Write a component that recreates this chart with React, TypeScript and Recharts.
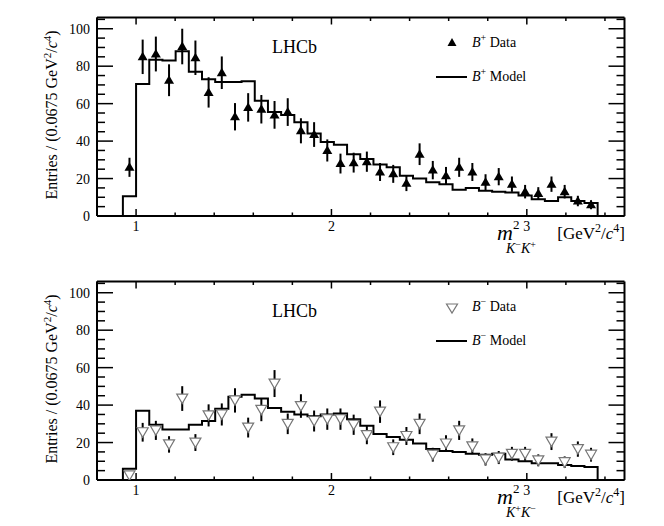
import React from 'react';
import { ComposedChart, Line, Scatter, ErrorBar, XAxis, YAxis } from 'recharts';

// histogram binning (0.0675 GeV^2/c^4 per bin)
const BIN_START = 0.9325;
const BIN_WIDTH = 0.0675;

const PLUS_DATA = [26, 85, 86.5, 72.5, 90.5, 84.5, 66, 76.5, 53, 58, 57, 54, 55.5, 45.5, 43.5, 35, 28, 28.5, 29, 23.5, 22.5, 17.5, 33, 24.5, 21.5, 26, 23.5, 18, 21, 17, 13, 12, 17, 13, 8, 6];
const PLUS_ERR = [5.1, 9.2, 9.3, 8.5, 9.5, 9.2, 8.1, 8.7, 7.3, 7.6, 7.6, 7.4, 7.4, 6.7, 6.6, 5.9, 5.3, 5.3, 5.4, 4.8, 4.8, 4.2, 5.8, 4.9, 4.7, 5.1, 4.8, 4.3, 4.6, 4.1, 3.6, 3.4, 4.1, 3.6, 2.8, 2.4];
const PLUS_MODEL = [10.5, 70.5, 83.5, 83, 88, 77, 73, 71.5, 71.5, 72, 61.5, 55.5, 54, 50, 44, 39.5, 38, 33, 30.5, 27.5, 26, 21.5, 20, 18, 17, 14, 15, 13.5, 13, 12.5, 11, 9, 8, 10, 8, 7];

const MINUS_DATA = [2.5, 25.5, 26.5, 19, 43.5, 20, 34.5, 35, 42.5, 28, 37.5, 51.5, 30, 39.5, 31.5, 32.5, 32.5, 29.5, 24, 36.5, 17.5, 23.5, 30, 13.5, 19.5, 26.5, 18, 11, 12, 14, 14, 10.5, 20.5, 9.5, 16.5, 13.5];
const MINUS_ERR = [1.6, 5.0, 5.1, 4.4, 6.6, 4.5, 5.9, 5.9, 6.5, 5.3, 6.1, 7.2, 5.5, 6.3, 5.6, 5.7, 5.7, 5.4, 4.9, 6.0, 4.2, 4.8, 5.5, 3.7, 4.4, 5.1, 4.2, 3.3, 3.5, 3.7, 3.7, 3.2, 4.5, 3.1, 4.1, 3.7];
const MINUS_MODEL = [6, 37, 29.5, 27, 27, 29.5, 31.5, 38, 44.5, 45.5, 43.5, 38.5, 36.5, 35, 34, 35, 35.5, 32.5, 29, 24.5, 23, 21.5, 19.5, 16.5, 15.5, 15, 14, 13.5, 14, 11, 10, 9, 9, 8, 7.5, 7];

const X_TICKS = [0.8, 1, 1.2, 1.4, 1.6, 1.8, 2, 2.2, 2.4, 2.6, 2.8, 3, 3.2, 3.4];
const X_LABELS = [1, 2, 3];
const Y_TICKS = [0, 5, 10, 15, 20, 25, 30, 35, 40, 45, 50, 55, 60, 65, 70, 75, 80, 85, 90, 95, 100, 105];
const Y_LABELS = [0, 20, 40, 60, 80, 100];

const FONT = '"Liberation Serif", "DejaVu Serif", serif';
const isMajor = (v: number, list: number[]) => list.some((m) => Math.abs(m - v) < 1e-6);

const toPoints = (vals: number[], errs: number[]) =>
  vals.map((v, i) => ({ x: BIN_START + BIN_WIDTH * (i + 0.5), y: v, err: errs[i] }));

const toSteps = (vals: number[]) => [
  { x: 0.8, y: 0 },
  ...vals.map((v, i) => ({ x: BIN_START + BIN_WIDTH * i, y: v })),
  { x: BIN_START + BIN_WIDTH * vals.length, y: 0 },
  { x: 3.5, y: 0 },
];

const BottomTick = (p: any) => {
  const major = isMajor(p.payload.value, X_LABELS);
  return (
    <g>
      <line x1={p.x} x2={p.x} y1={p.y} y2={p.y - (major ? 7 : 3.5)} stroke="#000" strokeWidth={1.5} />
      {major && (
        <text x={p.x} y={p.y + 15} textAnchor="middle" fontSize={14} fontFamily={FONT} fill="#000">
          {Math.round(p.payload.value)}
        </text>
      )}
    </g>
  );
};

const TopTick = (p: any) => {
  const major = isMajor(p.payload.value, X_LABELS);
  return <line x1={p.x} x2={p.x} y1={p.y} y2={p.y + (major ? 7 : 3.5)} stroke="#000" strokeWidth={1.5} />;
};

const LeftTick = (p: any) => {
  const major = isMajor(p.payload.value, Y_LABELS);
  return (
    <g>
      <line x1={p.x} x2={p.x + (major ? 16 : 8)} y1={p.y} y2={p.y} stroke="#000" strokeWidth={1.5} />
      {major && (
        <text x={p.x - 7} y={p.y + 5} textAnchor="end" fontSize={14} fontFamily={FONT} fill="#000">
          {p.payload.value}
        </text>
      )}
    </g>
  );
};

const RightTick = (p: any) => {
  const major = isMajor(p.payload.value, Y_LABELS);
  return <line x1={p.x} x2={p.x - (major ? 16 : 8)} y1={p.y} y2={p.y} stroke="#000" strokeWidth={1.5} />;
};

const UpTriangle = (p: any) => (
  <polygon
    points={`${p.cx},${p.cy - 5} ${p.cx - 5},${p.cy + 3.5} ${p.cx + 5},${p.cy + 3.5}`}
    fill="#000"
  />
);

const DownTriangle = (p: any) => (
  <polygon
    points={`${p.cx - 5.5},${p.cy - 4.5} ${p.cx + 5.5},${p.cy - 4.5} ${p.cx},${p.cy + 5}`}
    fill="#fff"
    stroke="#777"
    strokeWidth={1.2}
  />
);

const axisLine = { stroke: '#000', strokeWidth: 2 };

function Panel({ top, data, errs, model, marker }: any) {
  const pts = toPoints(data, errs);
  const steps = toSteps(model);
  return (
    <div style={{ position: 'absolute', left: 0, top }}>
      <ComposedChart width={664} height={263} margin={{ top: 16.5, right: 38.5, bottom: 17, left: 87 }}>
        <XAxis xAxisId="b" dataKey="x" type="number" domain={[0.8, 3.5]} allowDataOverflow ticks={X_TICKS}
          interval={0} height={30} tickSize={0} tickMargin={0} tickLine={false} axisLine={axisLine} tick={BottomTick} />
        <XAxis xAxisId="t" orientation="top" dataKey="x" type="number" domain={[0.8, 3.5]} allowDataOverflow ticks={X_TICKS}
          interval={0} height={1} tickSize={0} tickMargin={0} tickLine={false} axisLine={axisLine} tick={TopTick} />
        <YAxis yAxisId="l" dataKey="y" type="number" domain={[0, 106]} allowDataOverflow ticks={Y_TICKS}
          interval={0} width={10} tickSize={0} tickMargin={0} tickLine={false} axisLine={axisLine} tick={LeftTick} />
        <YAxis yAxisId="r" orientation="right" dataKey="y" type="number" domain={[0, 106]} allowDataOverflow ticks={Y_TICKS}
          interval={0} width={1} tickSize={0} tickMargin={0} tickLine={false} axisLine={axisLine} tick={RightTick} />
        <Line xAxisId="b" yAxisId="l" data={steps} dataKey="y" type="stepAfter" stroke="#000" strokeWidth={2}
          dot={false} activeDot={false} isAnimationActive={false} />
        <Scatter xAxisId="b" yAxisId="l" data={pts} dataKey="y" shape={marker} isAnimationActive={false}>
          <ErrorBar dataKey="err" direction="y" width={0} stroke="#000" strokeWidth={2} isAnimationActive={false} />
        </Scatter>
      </ComposedChart>
    </div>
  );
}

function Annotations({ dy, sign, sub }: { dy: number; sign: string; sub: [string, string] }) {
  return (
    <g fontFamily={FONT} fill="#000">
      <text x={272} y={53 + dy} fontSize={18}>LHCb</text>
      {/* legend */}
      {sign === '+' ? (
        <polygon points={`452,${38 + dy} 447.5,${46 + dy} 456.5,${46 + dy}`} fill="#000" />
      ) : (
        <polygon points={`446.5,${40 + dy} 457.5,${40 + dy} 452,${49 + dy}`} fill="#fff" stroke="#777" strokeWidth={1.2} />
      )}
      <text x={472} y={47 + dy} fontSize={14}>
        <tspan fontStyle="italic">B</tspan>
        <tspan fontSize={10} dy={-6}>{sign === '+' ? '+' : '−'}</tspan>
        <tspan dy={6}> Data</tspan>
      </text>
      <line x1={436} x2={467} y1={77 + dy} y2={77 + dy} stroke="#000" strokeWidth={2} />
      <text x={472} y={81 + dy} fontSize={14}>
        <tspan fontStyle="italic">B</tspan>
        <tspan fontSize={10} dy={-6}>{sign === '+' ? '+' : '−'}</tspan>
        <tspan dy={6}> Model</tspan>
      </text>
      {/* x title */}
      <text x={497} y={240 + dy}>
        <tspan fontStyle="italic" fontSize={22}>m</tspan>
        <tspan fontSize={13} dy={-11}>2</tspan>
      </text>
      <text x={506} y={253 + dy} fontSize={14}>
        <tspan fontStyle="italic">K</tspan>
        <tspan fontSize={10} dy={-5}>{sub[0]}</tspan>
        <tspan fontStyle="italic" dy={5}>K</tspan>
        <tspan fontSize={10} dy={-5}>{sub[1]}</tspan>
      </text>
      <text x={625} y={239 + dy} fontSize={17} textAnchor="end">
        [GeV<tspan fontSize={12} dy={-7}>2</tspan>
        <tspan dy={7}>/</tspan>
        <tspan fontStyle="italic">c</tspan>
        <tspan fontSize={12} dy={-7}>4</tspan>
        <tspan dy={7}>]</tspan>
      </text>
      {/* y title */}
      <text x={57} y={115 + dy} fontSize={16} textAnchor="middle" transform={`rotate(-90 57 ${115 + dy})`}>
        Entries / (0.0675 GeV<tspan fontSize={11} dy={-6}>2</tspan>
        <tspan dy={6}>/</tspan>
        <tspan fontStyle="italic">c</tspan>
        <tspan fontSize={11} dy={-6}>4</tspan>
        <tspan dy={6}>)</tspan>
      </text>
    </g>
  );
}

export default function App() {
  return (
    <div style={{ position: 'absolute', left: 0, top: 0, width: 664, height: 526, background: '#fff', overflow: 'hidden' }}>
      <Panel top={0} data={PLUS_DATA} errs={PLUS_ERR} model={PLUS_MODEL} marker={UpTriangle} />
      <Panel top={264} data={MINUS_DATA} errs={MINUS_ERR} model={MINUS_MODEL} marker={DownTriangle} />
      <svg width={664} height={526} style={{ position: 'absolute', left: 0, top: 0, pointerEvents: 'none' }}>
        <Annotations dy={0} sign="+" sub={['−', '+']} />
        <Annotations dy={264} sign="-" sub={['+', '−']} />
      </svg>
    </div>
  );
}
